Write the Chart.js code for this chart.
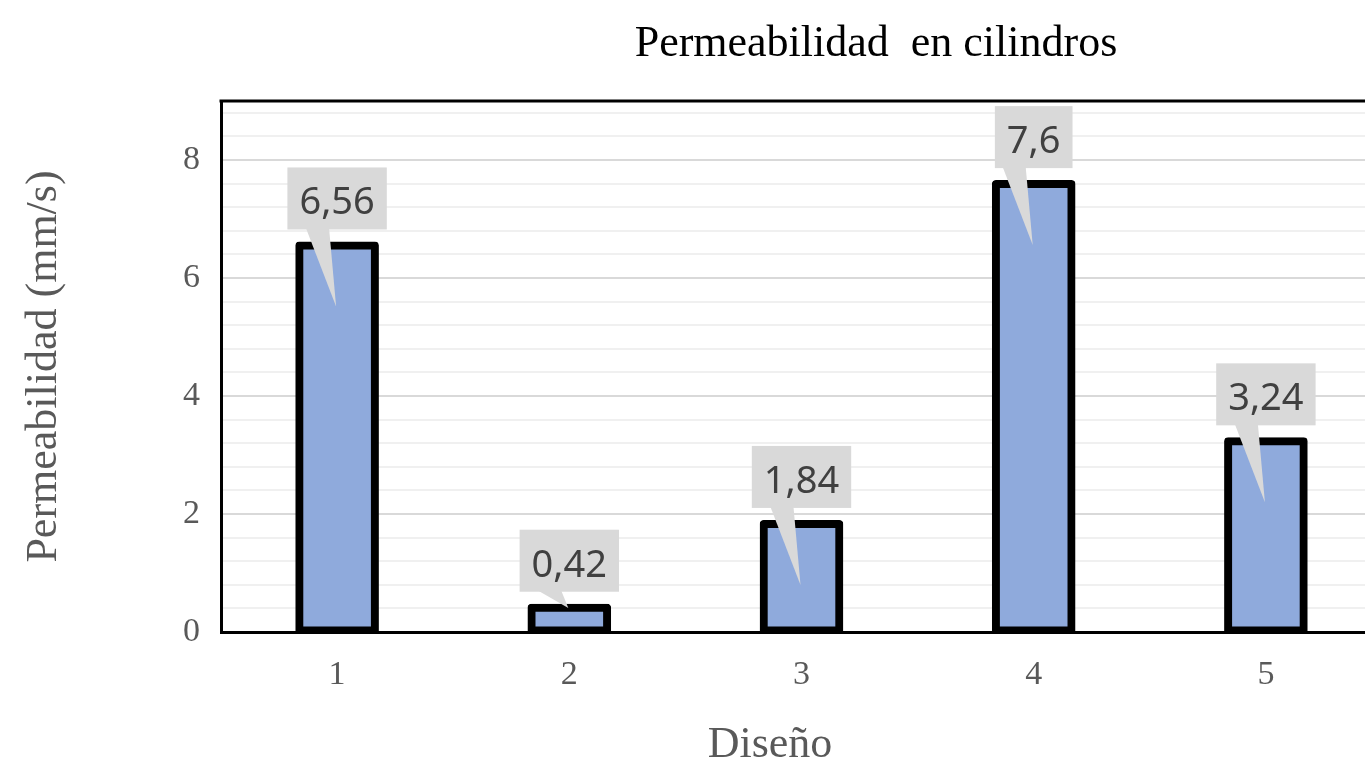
<!DOCTYPE html>
<html>
<head>
<meta charset="utf-8">
<script src="https://cdn.jsdelivr.net/npm/chart.js@4.4.1/dist/chart.umd.min.js"></script>
<style>
  html, body { margin: 0; padding: 0; background: #fff; overflow: hidden; }
  #wrap { width: 1752px; height: 763px; }
</style>
</head>
<body>
<div id="wrap"><canvas id="perm_chart" width="1752" height="763"></canvas></div>
<script>
// data
const disenos = ['1', '2', '3', '4', '5'];
const permeabilidad = [6.56, 0.42, 1.84, 7.6, 3.24];
const yTickLabels = [0, 2, 4, 6, 8];

const serif = '"Liberation Serif", "Times New Roman", serif';

//------------------------------------------

// callout labels + frame + titles
const callouts = {
  id: 'callouts',
  afterDatasetsDraw(chart) {
    const {ctx, chartArea: {top, left, right}} = chart;
    const meta = chart.getDatasetMeta(0);
    ctx.save();

    // top edge of the plot frame
    ctx.strokeStyle = '#000';
    ctx.lineWidth = 3;
    ctx.beginPath();
    ctx.moveTo(left - 1.5, top);
    ctx.lineTo(right + 2, top);
    ctx.stroke();

    ctx.font = '38px "Noto Sans", "Open Sans", sans-serif';
    meta.data.forEach((bar, i) => {
      const txt = String(permeabilidad[i]).replace('.', ',');
      const w = ctx.measureText(txt).width + 24;
      const h = 62;
      const cx = bar.x;
      const barTop = bar.y - 3.5;
      const boxBottom = barTop - 12;
      const boxTop = boxBottom - h;
      const barH = bar.base - barTop;
      const tipY = barTop + Math.min(65, Math.max(2, barH - 23));

      ctx.fillStyle = '#d9d9d9';
      ctx.fillRect(cx - w / 2, boxTop, w, h);
      ctx.beginPath();
      ctx.moveTo(cx - 31, boxBottom - 1);
      ctx.lineTo(cx - 8, boxBottom - 1);
      ctx.lineTo(cx - 1, tipY);
      ctx.closePath();
      ctx.fill();

      ctx.fillStyle = '#404040';
      ctx.textAlign = 'center';
      ctx.textBaseline = 'alphabetic';
      ctx.fillText(txt, cx, boxBottom - 15);
    });

    // chart title (centred on the full excel chart, wider than the window)
    ctx.font = '44px ' + serif;
    ctx.fillStyle = '#000';
    ctx.textAlign = 'center';
    ctx.fillText('Permeabilidad  en cilindros', 876, 56);

    // x axis title
    ctx.fillStyle = '#595959';
    ctx.fillText('Diseño', left + 549, 757);
    ctx.restore();
  }
};

//------------------------------------------

const config = {
  type: 'bar',
  data: {
    labels: disenos,
    datasets: [{
      label: 'Permeabilidad',
      data: permeabilidad,
      backgroundColor: '#8faadc',
      borderColor: '#000',
      borderWidth: 8,
      borderRadius: 4,
      borderSkipped: false,
      inflateAmount: 3.5,
      categoryPercentage: 1,
      barPercentage: 0.33
    }]
  },
  options: {
    responsive: false,
    animation: false,
    devicePixelRatio: 1,
    layout: {padding: {left: 0, right: 370, top: 101, bottom: 0}},
    plugins: {
      legend: {display: false},
      tooltip: {enabled: false},
      title: {display: false}
    },
    scales: {
      x: {
        grid: {display: false, drawTicks: false},
        border: {display: true, color: '#000', width: 3},
        ticks: {color: '#595959', font: {family: serif, size: 34}, padding: 23},
        afterFit(scale) { scale.height = 131; }
      },
      y: {
        min: 0,
        max: 9,
        grid: {
          drawTicks: false,
          color: (c) => (c.tick && yTickLabels.includes(c.tick.value)) ? '#d9d9d9' : '#f0f0f0',
          lineWidth: 2
        },
        border: {display: true, color: '#000', width: 3},
        ticks: {
          stepSize: 0.4,
          includeBounds: false,
          autoSkip: false,
          color: '#595959',
          font: {family: serif, size: 34},
          padding: 21,
          callback: (v) => yTickLabels.includes(v) ? v : ''
        },
        title: {
          display: true,
          text: 'Permeabilidad (mm/s)',
          color: '#595959',
          font: {family: serif, size: 44},
          padding: {top: 18, bottom: 0}
        },
        afterFit(scale) { scale.width = 221; }
      }
    }
  },
  plugins: [callouts]
};

const perm_chart = new Chart(document.getElementById('perm_chart'), config);
</script>
</body>
</html>
